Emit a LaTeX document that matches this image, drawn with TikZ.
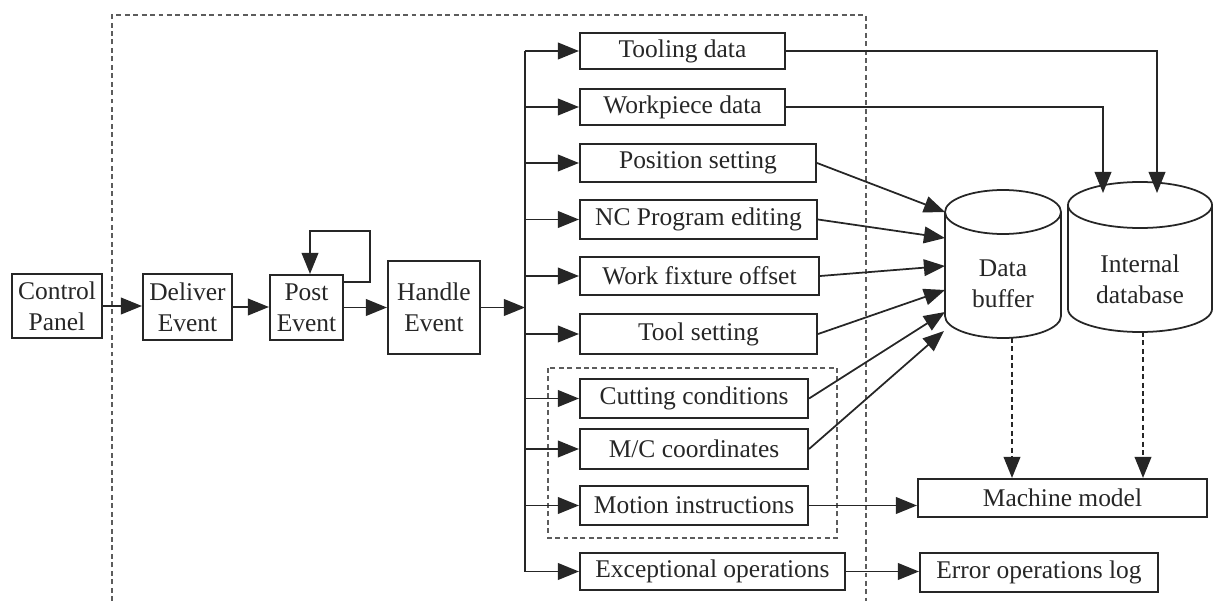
\documentclass[tikz,border=0pt]{standalone}
\usepackage{fontspec}
\setmainfont{Liberation Serif}
\usetikzlibrary{arrows.meta}
\definecolor{ink}{gray}{0.15}
\tikzset{
  box/.style={draw=ink, line width=1.2pt, inner sep=0pt, align=center, text=ink,
    font=\fontsize{14.5}{17.6}\selectfont},
  arr/.style={draw=ink, line width=1pt, -{Triangle[length=12pt,width=9.5pt]}},
  conn/.style={draw=ink, line width=1pt},
  dashframe/.style={draw=ink!75, line width=1.3pt, dash pattern=on 2.8pt off 2pt},
  cyl/.style={draw=ink, line width=1pt, fill=white},
  lbl/.style={text=ink, align=center, font=\fontsize{14.5}{17.6}\selectfont}
}
\begin{document}
\begin{tikzpicture}[x=0.02cm,y=-0.02cm]
\useasboundingbox (0,0) rectangle (1216,601);
% outer dashed frame
\draw[dashframe] (112,601) -- (112,15) -- (866,15) -- (866,601);
% inner dashed frame
\draw[dashframe] (548,368) rectangle (837,538);

% left chain
\node[box, minimum width=1.8cm, minimum height=1.28cm] (ctrl) at (57,306) {Control\\Panel};
\node[box, minimum width=1.78cm, minimum height=1.32cm] (deliver) at (187.5,307) {Deliver\\Event};
\node[box, minimum width=1.46cm, minimum height=1.3cm] (post) at (306.5,307.5) {Post\\Event};
\node[box, minimum width=1.84cm, minimum height=1.86cm] (handle) at (434,307.5) {Handle\\Event};

% branch boxes
\node[box, minimum width=4.1cm, minimum height=0.72cm] (tooling) at (682.5,51) {Tooling data};
\node[box, minimum width=4.1cm, minimum height=0.72cm] (workpiece) at (682.5,107) {Workpiece data};
\node[box, minimum width=4.72cm, minimum height=0.76cm] (position) at (698,163) {Position setting};
\node[box, minimum width=4.74cm, minimum height=0.78cm] (nc) at (698.5,219.5) {NC Program editing};
\node[box, minimum width=4.78cm, minimum height=0.76cm] (fixture) at (699.5,276) {Work fixture offset};
\node[box, minimum width=4.74cm, minimum height=0.8cm] (toolset) at (698.5,334) {Tool setting};
\node[box, minimum width=4.56cm, minimum height=0.78cm] (cutting) at (694,398.5) {Cutting conditions};
\node[box, minimum width=4.56cm, minimum height=0.8cm] (mc) at (694,449) {M/C coordinates};
\node[box, minimum width=4.56cm, minimum height=0.78cm] (motion) at (694,505.5) {Motion instructions};
\node[box, minimum width=5.3cm, minimum height=0.74cm] (exc) at (712.5,571.5) {Exceptional operations};
\node[box, minimum width=5.78cm, minimum height=0.76cm] (machine) at (1062.5,498) {Machine model};
\node[box, minimum width=4.76cm, minimum height=0.78cm] (errlog) at (1039,572.5) {Error operations log};

% cylinders
\draw[cyl] (945,212) -- (945,316) arc[start angle=180,end angle=360,x radius=58,y radius=-22] -- (1061,212);
\draw[cyl] (1003,212) ellipse[x radius=58, y radius=22];
\draw[cyl] (1068,205) -- (1068,309) arc[start angle=180,end angle=360,x radius=72,y radius=-23] -- (1212,205);
\draw[cyl] (1140,205) ellipse[x radius=72, y radius=23];
\node[lbl] (buffer) at (1003,284) {Data\\buffer};
\node[lbl] (database) at (1140,279) {Internal\\database};
\coordinate (b1) at (945,212);
\coordinate (b2) at (945,238);
\coordinate (b3) at (945,266);
\coordinate (b4) at (945,290);
\coordinate (b5) at (945,312);
\coordinate (b6) at (944,331);
\coordinate (d1) at (1103,193);
\coordinate (d2) at (1157,193);
\coordinate (bufbot) at (1012,338);
\coordinate (dbbot) at (1143,332);

% left chain arrows
\draw[arr] (ctrl.east) -- (deliver.west |- ctrl.east);
\draw[arr] (deliver.east) -- (post.west |- deliver.east);
\draw[arr] (post.east) -- (handle.west |- post.east);
\draw[arr] (post.east |- 0,282) -- (370,282) -- (370,231) -- (310,231) -- (310,0 |- post.north);
\coordinate (bus) at (525,307.5);
\draw[arr] (handle.east) -- (bus);

% bus and branches
\draw[conn] (525,0 |- tooling.west) -- (525,0 |- exc.west);
\foreach \n in {tooling,workpiece,position,nc,fixture,toolset,cutting,mc,motion,exc}
  \draw[arr] (525,0 |- \n.west) -- (\n.west);

% to data buffer
\draw[arr] (position.east) -- (b1);
\draw[arr] (nc.east) -- (b2);
\draw[arr] (fixture.east) -- (b3);
\draw[arr] (toolset.east) -- (b4);
\draw[arr] (cutting.east) -- (b5);
\draw[arr] (mc.east) -- (b6);

% to internal database
\draw[arr] (tooling.east) -| (d2);
\draw[arr] (workpiece.east) -| (d1);

% to machine model / log
\draw[arr] (motion.east) -- (machine.west |- motion.east);
\draw[arr] (exc.east) -- (errlog.west |- exc.east);
\draw[arr, dash pattern=on 2.8pt off 2pt] (bufbot) -- (bufbot |- machine.north);
\draw[arr, dash pattern=on 2.8pt off 2pt] (dbbot) -- (dbbot |- machine.north);
\end{tikzpicture}
\end{document}
